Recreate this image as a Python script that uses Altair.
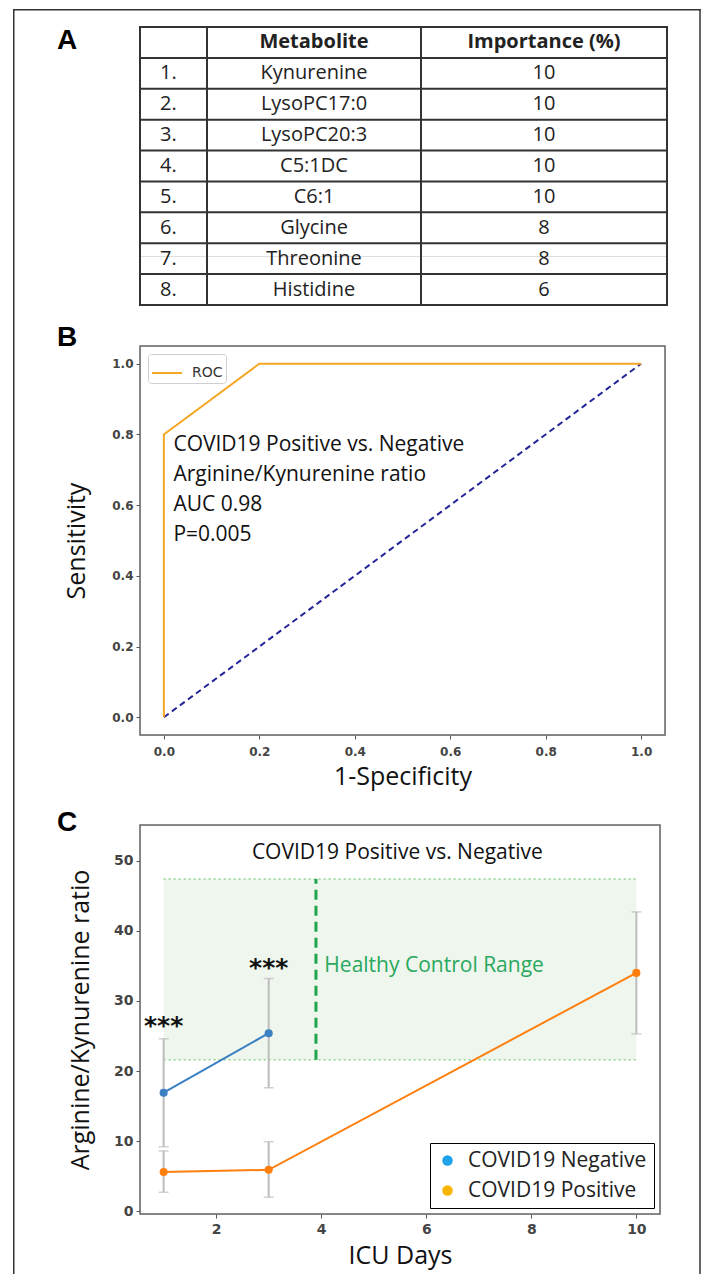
import altair as alt
import pandas as pd

# ---------------- data ----------------
panel_letters = ["A", "B", "C"]

# Panel A (table)
rank_labels = ["1.", "2.", "3.", "4.", "5.", "6.", "7.", "8."]
metabolites = ["Kynurenine", "LysoPC17:0", "LysoPC20:3", "C5:1DC", "C6:1",
               "Glycine", "Threonine", "Histidine"]
importance = ["10", "10", "10", "10", "10", "8", "8", "6"]
header_labels = ["Metabolite", "Importance (%)"]

# Panel B (ROC)
roc_fpr = [0.0, 0.0, 0.2, 1.0]
roc_tpr = [0.0, 0.8, 1.0, 1.0]
chance_fpr = [0.0, 1.0]
chance_tpr = [0.0, 1.0]
b_note_lines = ["COVID19 Positive vs. Negative", "Arginine/Kynurenine ratio",
                "AUC 0.98", "P=0.005"]
b_ticks = [0.0, 0.2, 0.4, 0.6, 0.8, 1.0]

# Panel C (time course)
group_names = ["COVID19 Negative", "COVID19 Positive"]
neg_days = [1, 3]
neg_mean = [16.9, 25.4]
neg_low = [9.2, 17.6]
neg_high = [24.6, 33.2]
pos_days = [1, 3, 10]
pos_mean = [5.6, 5.9, 34.0]
pos_low = [2.7, 2.0, 25.3]
pos_high = [8.6, 9.9, 42.7]
healthy_range = [21.6, 47.4]
healthy_days = [1, 10]
healthy_divider_day = [3.9]
healthy_label = ["Healthy Control Range"]
sig_days = [1, 3]
sig_levels = [27.3, 35.5]
sig_marks = ["***", "***"]
c_title = ["COVID19 Positive vs. Negative"]
c_x_ticks = [2, 4, 6, 8, 10]
c_y_ticks = [0, 10, 20, 30, 40, 50]

# ---------------- layout / style ----------------
FONT = "Open Sans"
TICK_FONT = "DejaVu Sans"
LETTER_FONT = "Liberation Sans"
col_edges = [0, 67, 281, 527]
TABLE_W, TABLE_H = 527, 278          # drawn table size
TABLE_VIEW_H = 229                   # layout height of panel A (table overhangs it)
B_W, B_H = 525, 389
C_W, C_H = 520, 389
GAP = 90
LETTER_X = -83
FRAME_L, FRAME_R = -127, 559.25     # outer figure border, px from plot left
FRAME_TOP, FRAME_BOTTOM = -18, 1247
FRAME_W = 1.5
FRAME_COLOR = "#333"
SPINE_COLOR = "#666"


def letter_layer(t, baseline_y):
    return alt.Chart(pd.DataFrame({"t": [t]})).mark_text(
        align="left", baseline="alphabetic", font=LETTER_FONT, fontSize=28,
        fontWeight="bold", color="black").encode(
        x=alt.value(LETTER_X), y=alt.value(baseline_y), text="t:N")


def frame_layers(top, bottom):
    one = pd.DataFrame({"k": [0]})
    base = alt.Chart(one).mark_rect(color=FRAME_COLOR, strokeWidth=0)
    return [base.encode(x=alt.value(FRAME_L), x2=alt.value(FRAME_L + FRAME_W),
                        y=alt.value(top), y2=alt.value(bottom)),
            base.encode(x=alt.value(FRAME_R), x2=alt.value(FRAME_R + FRAME_W),
                        y=alt.value(top), y2=alt.value(bottom)),
            base.encode(x=alt.value(FRAME_L), x2=alt.value(FRAME_R + FRAME_W),
                        y=alt.value(top), y2=alt.value(top + FRAME_W))]


def spines(w, h):
    return alt.Chart(pd.DataFrame({"k": [0]})).mark_rect(
        fillOpacity=0, stroke=SPINE_COLOR, strokeWidth=1.5).encode(
        x=alt.value(0), x2=alt.value(w), y=alt.value(0), y2=alt.value(h))


# ---------------- Panel A ----------------
n_rows = len(metabolites) + 1
tx = alt.Scale(domain=[col_edges[0], col_edges[-1]], nice=False, zero=False)
ty = alt.Scale(domain=[0, n_rows * TABLE_VIEW_H / TABLE_H], reverse=True,
               nice=False, zero=False)
mid1 = (col_edges[1] + col_edges[2]) / 2
mid2 = (col_edges[2] + col_edges[3]) / 2
row_centers = [i + 1.5 for i in range(len(metabolites))]

hlines = pd.DataFrame({"y": list(range(n_rows + 1)), "x": col_edges[0], "x2": col_edges[-1]})
vlines = pd.DataFrame({"x": col_edges, "y": 0, "y2": n_rows})
rank_df = pd.DataFrame({"row": row_centers, "x": col_edges[0] + 20, "t": rank_labels})
met_df = pd.DataFrame({"row": row_centers, "x": mid1, "t": metabolites})
imp_df = pd.DataFrame({"row": row_centers, "x": mid2, "t": importance})
head_df = pd.DataFrame({"row": [0.5, 0.5], "x": [mid1, mid2], "t": header_labels})

TX = lambda f: alt.X(f, scale=tx, axis=None)
TY = lambda f: alt.Y(f, scale=ty, axis=None)

h_rules = alt.Chart(hlines).mark_rule(color="#333", strokeWidth=2, strokeCap="square").encode(
    x=TX("x:Q"), x2="x2:Q", y=TY("y:Q"))
v_rules = alt.Chart(vlines).mark_rule(color="#333", strokeWidth=2, strokeCap="square").encode(
    x=TX("x:Q"), y=TY("y:Q"), y2="y2:Q")
rank_t = alt.Chart(rank_df).mark_text(align="left", baseline="middle", font=FONT,
                                      fontSize=20, color="#222").encode(
    x=TX("x:Q"), y=TY("row:Q"), text="t:N")
met_t = alt.Chart(met_df).mark_text(align="center", baseline="middle", font=FONT,
                                    fontSize=20, color="#222").encode(
    x=TX("x:Q"), y=TY("row:Q"), text="t:N")
imp_t = alt.Chart(imp_df).mark_text(align="center", baseline="middle", font=FONT,
                                    fontSize=20, color="#222").encode(
    x=TX("x:Q"), y=TY("row:Q"), text="t:N")
head_t = alt.Chart(head_df).mark_text(align="center", baseline="middle", font=FONT,
                                      fontSize=20, fontWeight="bold", color="#222").encode(
    x=TX("x:Q"), y=TY("row:Q"), text="t:N")

panel_a = alt.layer(h_rules, v_rules, rank_t, met_t, imp_t, head_t,
                    letter_layer(panel_letters[0], 22),
                    *frame_layers(FRAME_TOP, FRAME_BOTTOM)).properties(
    width=TABLE_W, height=TABLE_VIEW_H)

# ---------------- Panel B ----------------
bx = alt.Scale(domain=[-0.05, 1.05], nice=False, zero=False)
by = alt.Scale(domain=[-0.05, 1.05], nice=False, zero=False)
bx_axis = alt.Axis(values=b_ticks, format=".1f", title="1-Specificity", grid=False,
                   domain=False, tickSize=4, tickColor="#555", labelFont=TICK_FONT,
                   labelFontSize=12, labelFontWeight="bold", labelColor="#444",
                   labelPadding=7, titleFont=FONT, titleFontSize=25,
                   titleFontWeight="normal", titleColor="#111", titlePadding=7)
by_axis = alt.Axis(values=b_ticks, format=".1f", title="Sensitivity", grid=False,
                   domain=False, tickSize=4, tickColor="#555", labelFont=TICK_FONT,
                   labelFontSize=12, labelFontWeight="bold", labelColor="#444",
                   labelPadding=3, titleFont=FONT, titleFontSize=25,
                   titleFontWeight="normal", titleColor="#111", titlePadding=22)
BX = lambda f: alt.X(f, scale=bx, axis=bx_axis)
BY = lambda f: alt.Y(f, scale=by, axis=by_axis)

roc_df = pd.DataFrame({"fpr": roc_fpr, "tpr": roc_tpr, "idx": range(len(roc_fpr)),
                       "curve": "ROC"})
chance_df = pd.DataFrame({"fpr": chance_fpr, "tpr": chance_tpr, "idx": range(len(chance_fpr))})
note_df = pd.DataFrame({"fpr": [0.02], "tpr": [0.8]})

chance = alt.Chart(chance_df).mark_line(color="#24249a", strokeWidth=2, strokeDash=[6, 4]).encode(
    x=BX("fpr:Q"), y=BY("tpr:Q"), order="idx:Q")
roc = alt.Chart(roc_df).mark_line(strokeWidth=2).encode(
    x=BX("fpr:Q"), y=BY("tpr:Q"), order="idx:Q",
    color=alt.Color("curve:N", scale=alt.Scale(domain=["ROC"], range=["#f5a623"]),
                    legend=alt.Legend(title=None, orient="top-left", offset=8, padding=3,
                                      strokeColor="#cfcfcf", cornerRadius=3,
                                      symbolType="stroke", symbolSize=900,
                                      symbolStrokeWidth=2, labelFont=TICK_FONT,
                                      labelFontSize=14, labelColor="#333",
                                      labelOffset=9)))
note = alt.Chart(note_df).mark_text(text=b_note_lines, align="left", baseline="top",
                                    lineHeight=30, font=FONT, fontSize=21,
                                    color="#111").encode(x=BX("fpr:Q"), y=BY("tpr:Q"))

panel_b = alt.layer(chance, roc, note, letter_layer(panel_letters[1], 0),
                    spines(B_W, B_H)).properties(width=B_W, height=B_H)

# ---------------- Panel C ----------------
cx = alt.Scale(domain=[0.55, 10.45], nice=False, zero=False)
cy = alt.Scale(domain=[-0.4, 55.1], nice=False, zero=False)
cx_axis = alt.Axis(values=c_x_ticks, title="ICU Days", grid=False, domain=False,
                   tickSize=4, tickColor="#555", labelFont=TICK_FONT, labelFontSize=14,
                   labelFontWeight="bold", labelColor="#444", labelPadding=4,
                   titleFont=FONT, titleFontSize=25, titleFontWeight="normal",
                   titleColor="#111", titlePadding=7)
cy_axis = alt.Axis(values=c_y_ticks, title="Arginine/Kynurenine  ratio", grid=False,
                   domain=False, tickSize=4, tickColor="#555", labelFont=TICK_FONT,
                   labelFontSize=14, labelFontWeight="bold", labelColor="#444",
                   labelPadding=3, titleFont=FONT, titleFontSize=25,
                   titleFontWeight="normal", titleColor="#111", titlePadding=20)
CX = lambda f: alt.X(f, scale=cx, axis=cx_axis)
CY = lambda f: alt.Y(f, scale=cy, axis=cy_axis)

neg_df = pd.DataFrame({"day": neg_days, "mean": neg_mean, "low": neg_low, "high": neg_high})
pos_df = pd.DataFrame({"day": pos_days, "mean": pos_mean, "low": pos_low, "high": pos_high})
err_df = pd.concat([neg_df, pos_df], ignore_index=True)
caps_df = pd.DataFrame({"day": list(err_df["day"]) * 2,
                        "val": list(err_df["low"]) + list(err_df["high"])})
band_df = pd.DataFrame({"d0": [healthy_days[0]], "d1": [healthy_days[1]],
                        "lo": [healthy_range[0]], "hi": [healthy_range[1]]})
edge_df = pd.DataFrame({"d0": healthy_days[0], "d1": healthy_days[1], "v": healthy_range})
div_df = pd.DataFrame({"day": healthy_divider_day, "lo": [healthy_range[0]],
                       "hi": [healthy_range[1]]})
sig_df = pd.DataFrame({"day": sig_days, "v": sig_levels, "t": sig_marks})
hl_df = pd.DataFrame({"day": [4.06], "v": [35.0], "t": healthy_label})
ct_df = pd.DataFrame({"day": [5.45], "v": [51.1], "t": c_title})
leg_df = pd.DataFrame({"group": group_names, "day": [neg_days[0], pos_days[0]],
                       "mean": [neg_mean[0], pos_mean[0]]})

band = alt.Chart(band_df).mark_rect(color="#eef6ed").encode(
    x=CX("d0:Q"), x2="d1:Q", y=CY("lo:Q"), y2="hi:Q")
edges = alt.Chart(edge_df).mark_rule(color="#8fd48f", strokeWidth=1.6, strokeDash=[2, 3]).encode(
    x=CX("d0:Q"), x2="d1:Q", y=CY("v:Q"))
divider = alt.Chart(div_df).mark_rule(color="#1ea64c", strokeWidth=3, strokeDash=[10, 6]).encode(
    x=CX("day:Q"), y=CY("lo:Q"), y2="hi:Q")
err = alt.Chart(err_df).mark_rule(color="#bdbdbd", strokeWidth=2).encode(
    x=CX("day:Q"), y=CY("low:Q"), y2="high:Q")
caps = alt.Chart(caps_df).mark_tick(orient="horizontal", color="#bdbdbd", size=10,
                                    thickness=1.5).encode(x=CX("day:Q"), y=CY("val:Q"))
neg_line = alt.Chart(neg_df).mark_line(color="#3a80c3", strokeWidth=2).encode(
    x=CX("day:Q"), y=CY("mean:Q"))
pos_line = alt.Chart(pos_df).mark_line(color="#ff7f0e", strokeWidth=2).encode(
    x=CX("day:Q"), y=CY("mean:Q"))
leg = alt.Chart(leg_df).mark_circle(size=45, opacity=1).encode(
    x=CX("day:Q"), y=CY("mean:Q"),
    color=alt.Color("group:N", scale=alt.Scale(domain=group_names,
                                               range=["#1fa2e8", "#f7b500"]),
                    legend=alt.Legend(title=None, orient="bottom-right", offset=6,
                                      padding=7, rowPadding=8, strokeColor="black",
                                      fillColor="white", cornerRadius=0,
                                      symbolType="circle", symbolSize=110,
                                      symbolOpacity=1, labelFont=FONT,
                                      labelFontSize=21, labelColor="#222",
                                      labelOffset=10, labelLimit=400)))
neg_pts = alt.Chart(neg_df).mark_circle(color="#3a80c3", size=65, opacity=1).encode(
    x=CX("day:Q"), y=CY("mean:Q"))
pos_pts = alt.Chart(pos_df).mark_circle(color="#ff7f0e", size=65, opacity=1).encode(
    x=CX("day:Q"), y=CY("mean:Q"))
sig = alt.Chart(sig_df).mark_text(font=TICK_FONT, fontSize=25, fontWeight="bold",
                                  baseline="alphabetic", dy=14, color="#111").encode(
    x=CX("day:Q"), y=CY("v:Q"), text="t:N")
hl_text = alt.Chart(hl_df).mark_text(font=FONT, fontSize=21, align="left",
                                     baseline="middle", color="#2aa85e").encode(
    x=CX("day:Q"), y=CY("v:Q"), text="t:N")
ct_text = alt.Chart(ct_df).mark_text(font=FONT, fontSize=21, align="center",
                                     baseline="middle", color="#111").encode(
    x=CX("day:Q"), y=CY("v:Q"), text="t:N")

panel_c = alt.layer(band, edges, divider, err, caps, neg_line, pos_line, leg,
                    neg_pts, pos_pts, sig, hl_text, ct_text,
                    letter_layer(panel_letters[2], 6),
                    spines(C_W, C_H)).properties(width=C_W, height=C_H)

chart = alt.vconcat(panel_a, panel_b, panel_c, spacing=GAP, bounds="flush").resolve_scale(
    x="independent", y="independent", color="independent"
).resolve_legend(color="independent").properties(
    padding={"left": 4, "top": 0, "right": 0, "bottom": 0}
).configure_view(strokeWidth=0, strokeOpacity=0).configure(background="white")

chart.save("out.html", embed_options={"renderer": "svg", "actions": False})
